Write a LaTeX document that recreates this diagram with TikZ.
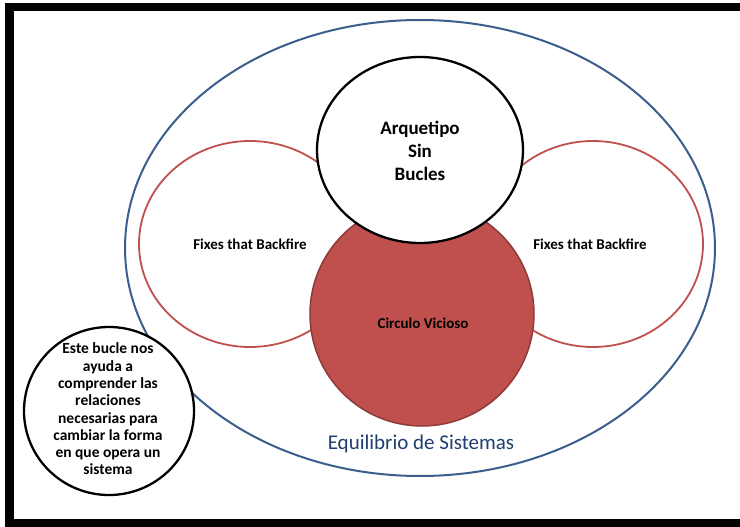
\documentclass[tikz,border=0pt]{standalone}
\usepackage{fontspec}
\setmainfont{Carlito}
\usetikzlibrary{shapes.geometric}
\definecolor{bluel}{HTML}{3B5E8C}
\definecolor{redl}{HTML}{C0504D}
\definecolor{redd}{HTML}{8E3B39}
\definecolor{eqblue}{HTML}{1F3F6E}
\begin{document}
\begin{tikzpicture}[x=1pt,y=-1pt,
  oval/.style={ellipse, inner sep=0pt, draw},
  loopline/.style={draw=redl, line width=1.8pt},
  blackoval/.style={draw=black, fill=white, line width=2.3pt},
  boldtxt/.style 2 args={font=\bfseries\fontsize{#1}{#2}\selectfont, inner sep=0pt, text=black}
]
\fill[white] (0,0) rectangle (740,527);
\useasboundingbox (0,0) rectangle (740,527);
% frame
\fill[black] (5,3) rectangle (740,11);
\fill[black] (5,3) rectangle (14,527);
\fill[black] (5,519) rectangle (740,527);
% shapes
\node[oval, draw=bluel, line width=2pt, minimum width=590pt, minimum height=456pt] (outer) at (420,248) {};
\node[oval, loopline, minimum width=222pt, minimum height=206pt] (leftfix) at (250,244) {};
\node[oval, loopline, minimum width=220pt, minimum height=206pt] (rightfix) at (593,244) {};
\node[oval, draw=redd, fill=redl, line width=1.5pt, minimum width=224pt, minimum height=224pt] (vicioso) at (422,314) {};
\node[oval, blackoval, minimum width=206pt, minimum height=186pt] (arq) at (420,150) {};
\node[oval, blackoval, minimum width=170pt, minimum height=168pt] (note) at (109,411) {};
% texts
\node[boldtxt={19}{23}, align=center] (arqtxt) at (420,151) {Arquetipo\\Sin\\Bucles};
\node[boldtxt={15}{17}] (fixltxt) at (250,244) {Fixes that Backfire};
\node[boldtxt={15}{17}] (fixrtxt) at (590,244) {Fixes that Backfire};
\node[boldtxt={15}{18}] (vtxt) at (423,323) {Circulo Vicioso};
\node[font=\fontsize{21}{25}\selectfont, text=eqblue, inner sep=0pt] (eqtxt) at (421,444) {Equilibrio de Sistemas};
\node[boldtxt={15.5}{17.3}, align=center] (notetxt) at (108,409) {Este bucle nos\\ayuda a\\comprender las\\relaciones\\necesarias para\\cambiar la forma\\en que opera un\\sistema};
\end{tikzpicture}
\end{document}
